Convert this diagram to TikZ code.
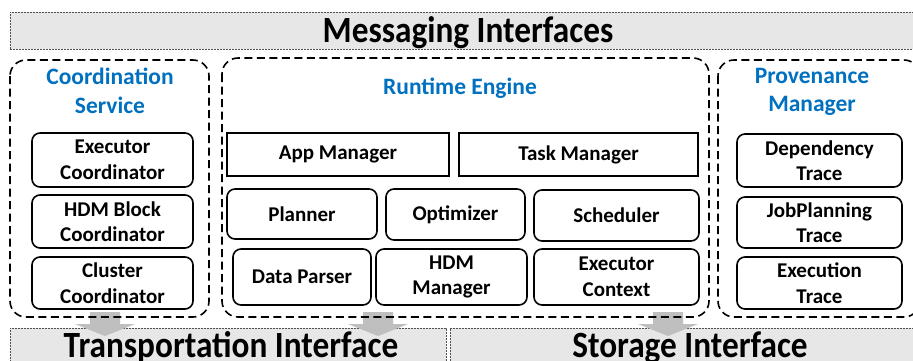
\documentclass[tikz,border=0pt]{standalone}
\usepackage{fontspec}
\setmainfont{Carlito}
\definecolor{barfill}{HTML}{E7E7E7}
\definecolor{barline}{HTML}{505050}
\definecolor{titleblue}{HTML}{0070C0}
\definecolor{arrowgray}{HTML}{BFBFBF}
\begin{document}
\begin{tikzpicture}[x=1pt,y=-1pt,
  bar/.style={fill=barfill,draw=barline,line width=0.8pt,dash pattern=on 2pt off 1pt,inner sep=0pt},
  bartext/.style={font=\fontsize{37}{40}\selectfont\bfseries,inner sep=0pt,anchor=base},
  group/.style={draw=black,line width=1.6pt,dash pattern=on 8pt off 4.5pt,rounded corners=16pt},
  gtitle/.style={font=\fontsize{23.5}{28.5}\selectfont\bfseries,text=titleblue,align=center,inner sep=0pt},
  module/.style={draw=black,line width=1.6pt,rounded corners=8pt,font=\fontsize{21}{25.5}\selectfont\bfseries,align=center,inner sep=0pt},
  sqmodule/.style={module,rounded corners=0pt},
  blockarrow/.style={fill=arrowgray,draw=none}
]
\clip (0,0) rectangle (913,360);
\fill[white] (0,0) rectangle (913,360);

% bars
\node[bar,minimum width=915pt,minimum height=37pt] (msg) at (467.5,30.5) {};
\node[bartext] (msgt) at (468,42) {\scalebox{0.9}[1]{Messaging Interfaces}};
\node[bar,minimum width=436pt,minimum height=44pt] (trans) at (228,350) {};
\node[bar,minimum width=480pt,minimum height=44pt] (stor) at (690,350) {};

% block arrows
\foreach \cx in {105,378,668}{
  \fill[blockarrow] (\cx-15,312) -- (\cx+15,312) -- (\cx+15,324) -- (\cx+30,324)
     -- (\cx,336) -- (\cx-30,324) -- (\cx-15,324) -- cycle;
}
\node[bartext] (transt) at (231,357) {\scalebox{0.9}[1]{Transportation Interface}};
\node[bartext] (stort) at (690,357) {\scalebox{0.9}[1]{Storage Interface}};

% groups
\draw[group] (10,60) rectangle (209,317);
\draw[group] (222,58) rectangle (709,317);
\draw[group] (718,60) rectangle (920,317);

% Coordination Service
\node[gtitle] (cst) at (110,91) {Coordination\\Service};
\node[module,minimum width=161pt,minimum height=54pt] (ec) at (112.5,160) {Executor\\Coordinator};
\node[module,minimum width=161pt,minimum height=53pt] (hbc) at (112.5,221.5) {HDM Block\\Coordinator};
\node[module,minimum width=161pt,minimum height=52pt] (cc) at (112.5,283) {Cluster\\Coordinator};

% Runtime Engine
\node[gtitle] (ret) at (460,88) {Runtime Engine};
\node[sqmodule,minimum width=222pt,minimum height=43pt] (am) at (338,154.5) {App Manager};
\node[sqmodule,minimum width=239pt,minimum height=43pt] (tm) at (578.5,154.5) {Task Manager};
\node[module,minimum width=150pt,minimum height=50pt] (pl) at (302,214) {Planner};
\node[module,minimum width=139pt,minimum height=51pt] (op) at (455.5,214.5) {Optimizer};
\node[module,minimum width=165pt,minimum height=51pt] (sc) at (616.5,215.5) {Scheduler};
\node[module,minimum width=138pt,minimum height=56pt] (dp) at (302,277) {Data Parser};
\node[module,minimum width=151pt,minimum height=56pt] (hm) at (451.5,277) {HDM\\Manager};
\node[module,minimum width=165pt,minimum height=56pt] (ex) at (616.5,277) {Executor\\Context};

% Provenance Manager
\node[gtitle] (pmt) at (812,92) {Provenance\\Manager};
\node[module,minimum width=165pt,minimum height=53pt] (dt) at (819.5,160.5) {Dependency\\Trace};
\node[module,minimum width=165pt,minimum height=51pt] (jt) at (819.5,222.5) {JobPlanning\\Trace};
\node[module,minimum width=165pt,minimum height=52pt] (et) at (819.5,283) {Execution\\Trace};
\end{tikzpicture}
\end{document}
